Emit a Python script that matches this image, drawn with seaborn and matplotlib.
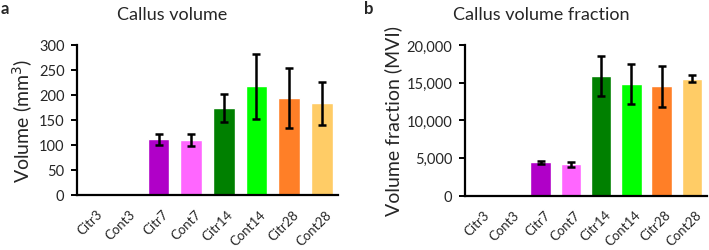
import matplotlib
matplotlib.use("Agg")
import matplotlib.pyplot as plt
from matplotlib.ticker import FuncFormatter
import seaborn as sns
import pandas as pd

categories = ["Citr3", "Cont3", "Citr7", "Cont7", "Citr14", "Cont14", "Citr28", "Cont28"]
volume_mean = [0, 0, 112, 111, 175, 218, 195, 184]
volume_sd = [0, 0, 11, 12, 28, 65, 60, 43]
fraction_mean = [0, 0, 4400, 4180, 15860, 14850, 14540, 15510]
fraction_sd = [0, 0, 200, 330, 2620, 2640, 2730, 460]
bar_colors = ["#B000C8", "#B000C8", "#B000C8", "#FF66FF", "#008000", "#00FF00", "#FF7F27", "#FFCC66"]
volume_ticks = [0, 50, 100, 150, 200, 250, 300]
fraction_ticks = [0, 5000, 10000, 15000, 20000]

sns.set_theme(style="white")
plt.rcParams["font.family"] = ["Lato", "DejaVu Sans"]

fig = plt.figure(figsize=(7.09, 2.51), dpi=100)
W, H = 709, 251


def make_ax(x0, x1, y0, y1):
    return fig.add_axes([x0 / W, 1 - y1 / H, (x1 - x0) / W, (y1 - y0) / H])


def draw(ax, means, sds, ticks, ylabel, fmt=None, label_shift=0.1):
    df = pd.DataFrame({"cat": categories, "val": means})
    sns.barplot(data=df, x="cat", y="val", hue="cat", palette=bar_colors,
                legend=False, ax=ax, width=0.67, order=categories, saturation=1)
    xs = [i for i, m in enumerate(means) if m > 0]
    ax.errorbar(xs, [means[i] for i in xs], yerr=[sds[i] for i in xs],
                fmt="none", ecolor="black", elinewidth=1.8, capsize=3.2, capthick=1.8)
    ax.set_xlim(-0.5, len(categories) - 0.5)
    ax.set_ylim(ticks[0], ticks[-1])
    ax.set_yticks(ticks)
    if fmt:
        ax.yaxis.set_major_formatter(FuncFormatter(fmt))
    # x tick labels, nudged slightly right like the original
    ax.set_xticks([i + label_shift for i in range(len(categories))])
    ax.set_xticklabels(categories, rotation=45, ha="right", rotation_mode="anchor")
    ax.set_xlabel("")
    ax.set_ylabel(ylabel, fontsize=14, labelpad=3)
    for s in ["top", "right"]:
        ax.spines[s].set_visible(False)
    for s in ["left", "bottom"]:
        ax.spines[s].set_color("black")
        ax.spines[s].set_linewidth(1.6)
    ax.tick_params(axis="y", direction="out", length=4, width=1.4, color="black",
                   labelsize=10.5, pad=5, left=True)
    ax.tick_params(axis="x", length=0, labelsize=9.5, pad=9)


ax1 = make_ax(77, 338, 46, 196)
draw(ax1, volume_mean, volume_sd, volume_ticks, "Volume (mm$^3$)")
ax2 = make_ax(465, 707, 46, 196.5)
draw(ax2, fraction_mean, fraction_sd, fraction_ticks, "Volume fraction (MVI)",
     fmt=lambda v, p: f"{int(v):,}")

fig.text(172 / W, 1 - 15 / H, "Callus volume", ha="center", va="center", fontsize=13)
fig.text(541 / W, 1 - 15 / H, "Callus volume fraction", ha="center", va="center", fontsize=13)
fig.text(1 / W, 1 - 9 / H, "a", ha="left", va="center", fontsize=12, fontweight="bold")
fig.text(364 / W, 1 - 9 / H, "b", ha="left", va="center", fontsize=12, fontweight="bold")

fig.savefig("out.png", dpi=100)
